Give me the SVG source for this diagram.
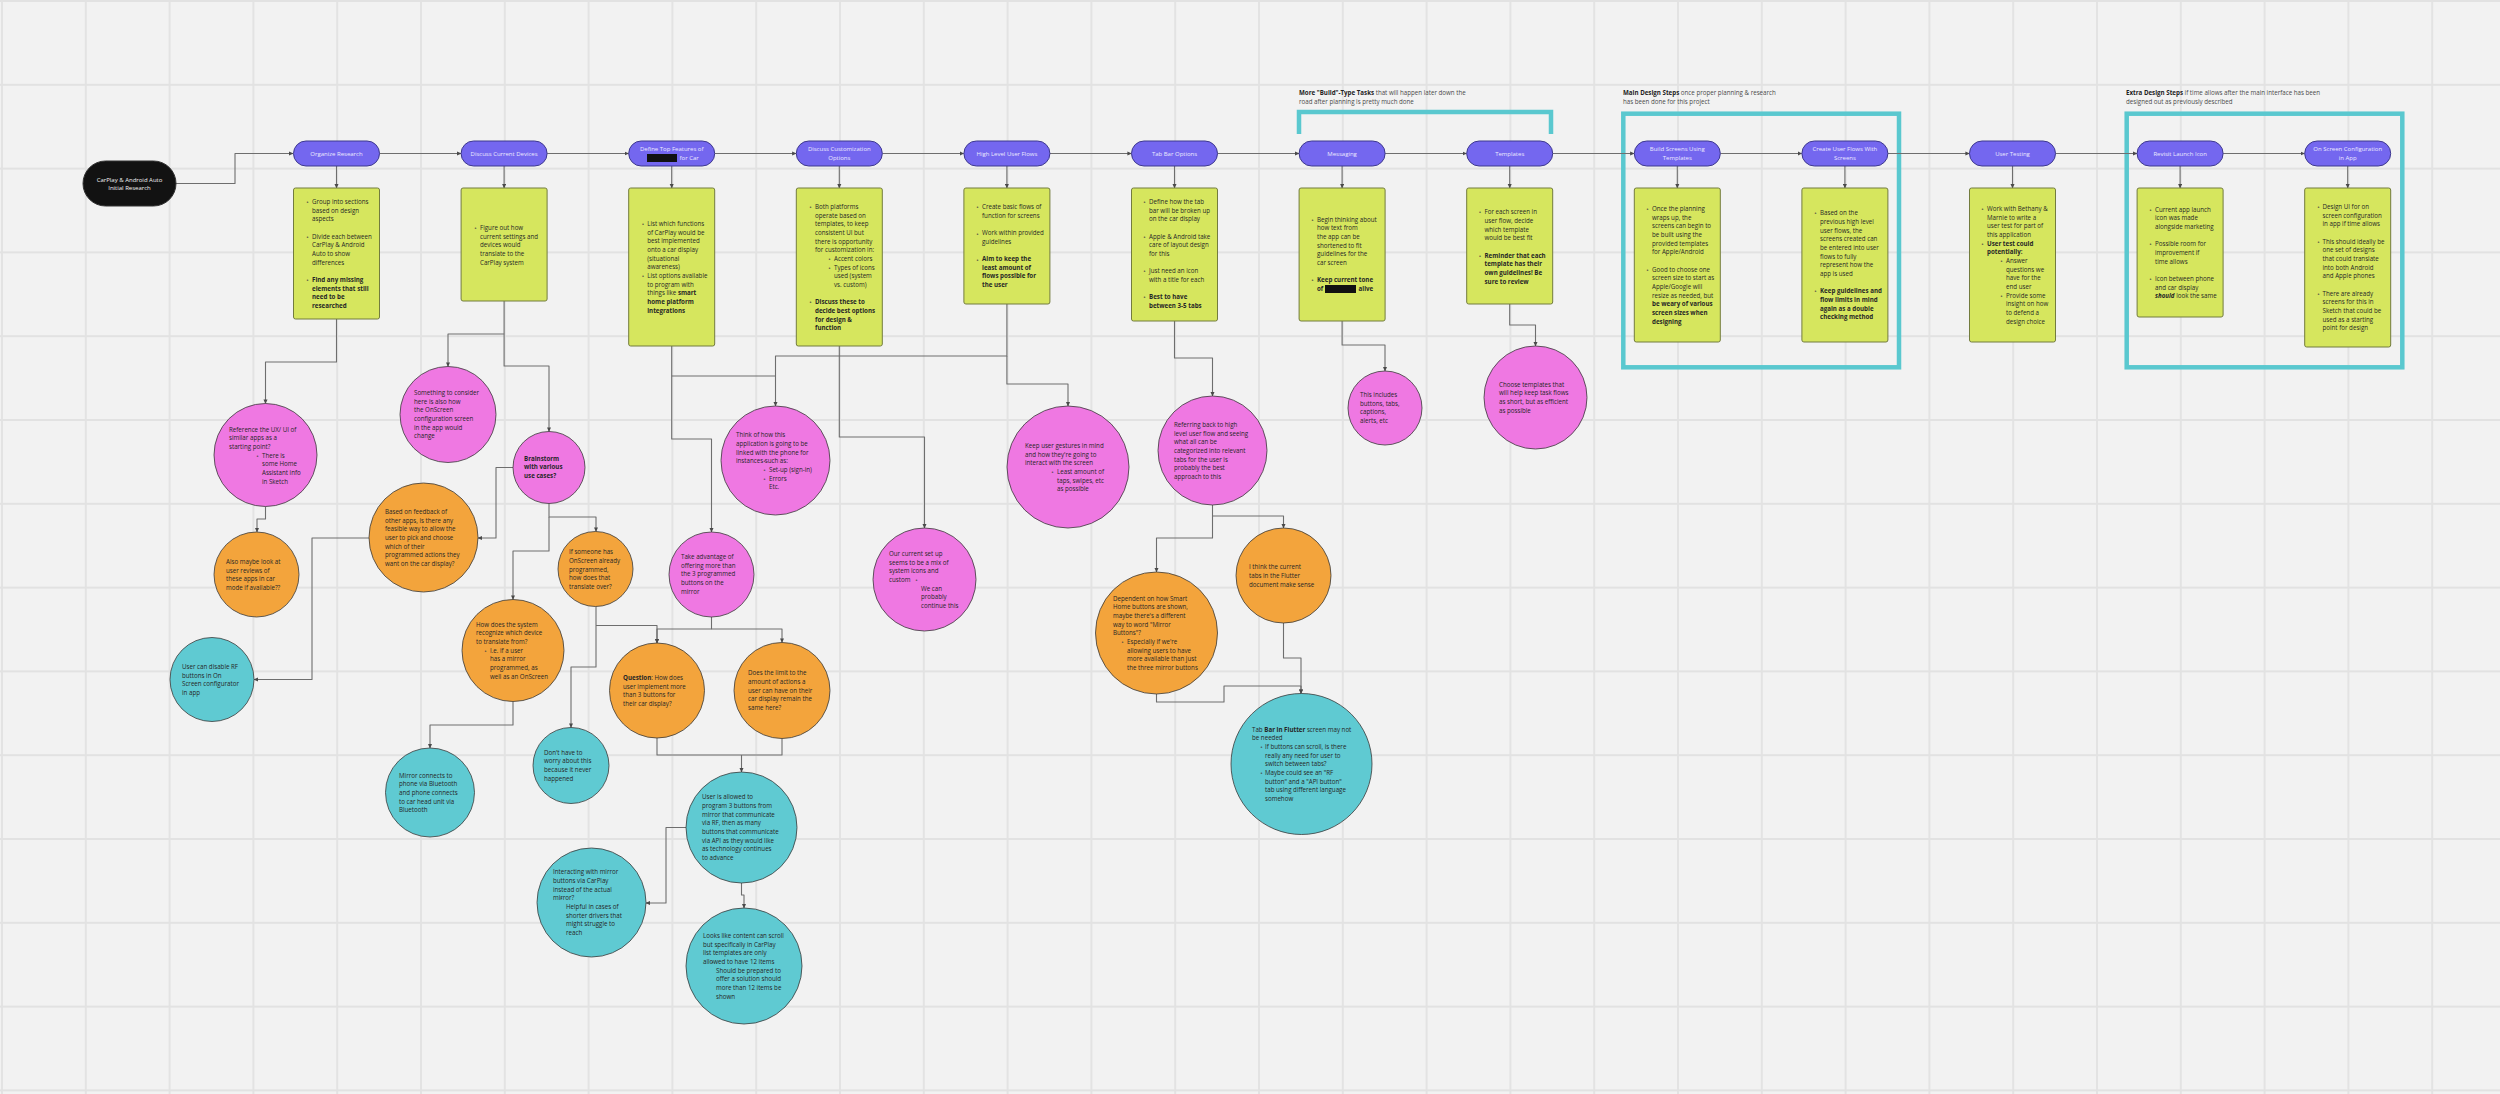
<svg xmlns="http://www.w3.org/2000/svg" width="2500" height="1094" viewBox="0 0 2500 1094">
<defs>
<pattern id="grid" width="83.8" height="83.8" patternUnits="userSpaceOnUse" x="1" y="0"><path d="M1 0V83.8M0 1H83.8" stroke="#e2e2e2" stroke-width="1.8" fill="none"/></pattern>
<marker id="ar" viewBox="0 0 10 10" refX="9" refY="5" markerWidth="4.5" markerHeight="4.5" markerUnits="userSpaceOnUse" orient="auto"><path d="M0,0.5 L10,5 L0,9.5z" fill="#4a4a4a"/></marker>
<style>
text{font-family:'Open Sans','Liberation Sans',Arial,sans-serif}
.n{font-size:6.2px;fill:#262626}
.b{font-weight:700}
.bi{font-weight:700;font-style:italic}
.bu{font-size:5px;fill:#444;font-family:'DejaVu Sans',sans-serif}
.p{font-size:6px;fill:#eceaff;text-anchor:middle}
.st{font-size:6px;fill:#f2f2f2;text-anchor:middle}
.h{font-size:6.2px;fill:#4a4a4a}
.note{fill:#d6e65e;stroke:#737c3e;stroke-width:1}
.pill{fill:#7467ef;stroke:#3d388e;stroke-width:1}
.pk{fill:#ef78e2;stroke:#3a3a3a;stroke-width:.8}
.or{fill:#f3a43c;stroke:#3a3a3a;stroke-width:.8}
.cy{fill:#5fcad2;stroke:#3a3a3a;stroke-width:.8}
.frame{fill:none;stroke:#5ac8cf;stroke-width:4.5}
.c path{fill:none;stroke:#6e6e6e;stroke-width:1.1;stroke-linejoin:round}
.c path.a{marker-end:url(#ar)}
.red{fill:#111}
</style>
</defs>
<rect width="2500" height="1094" fill="#f2f2f2"/>
<rect width="2500" height="1094" fill="url(#grid)"/>

<!-- frames and headers -->
<g id="frames">
<path class="frame" d="M1299,134V112H1551V134"/>
<rect class="frame" x="1623.3" y="113.7" width="275.7" height="253.6"/>
<rect class="frame" x="2126.7" y="113.7" width="275.6" height="253.6"/>
<text class="h" x="1299" y="95"><tspan class="b" fill="#222">More "Build"-Type Tasks</tspan> that will happen later down the</text>
<text class="h" x="1299" y="104">road after planning is pretty much done</text>
<text class="h" x="1623" y="95"><tspan class="b" fill="#222">Main Design Steps</tspan> once proper planning &amp; research</text>
<text class="h" x="1623" y="104">has been done for this project</text>
<text class="h" x="2126" y="95"><tspan class="b" fill="#222">Extra Design Steps</tspan> if time allows after the main interface has been</text>
<text class="h" x="2126" y="104">designed out as previously described</text>
</g>

<!-- connectors -->
<g id="connectors" class="c">
<path class="a" d="M176,183.5H235V153.5H293"/>
<path class="a" d="M379.5,153.5H461"/>
<path class="a" d="M547.1,153.5H628.6"/>
<path class="a" d="M714.7,153.5H796.2"/>
<path class="a" d="M882.3,153.5H963.8"/>
<path class="a" d="M1049.9,153.5H1131.4"/>
<path class="a" d="M1217.5,153.5H1299"/>
<path class="a" d="M1385.1,153.5H1466.6"/>
<path class="a" d="M1552.7,153.5H1634.2"/>
<path class="a" d="M1720.3,153.5H1801.8"/>
<path class="a" d="M1887.9,153.5H1969.4"/>
<path class="a" d="M2055.5,153.5H2137"/>
<path class="a" d="M2223.1,153.5H2304.6"/>
<path class="a" d="M336.5,166V188"/>
<path class="a" d="M504.1,166V188"/>
<path class="a" d="M671.7,166V188"/>
<path class="a" d="M839.3,166V188"/>
<path class="a" d="M1006.9,166V188"/>
<path class="a" d="M1174.5,166V188"/>
<path class="a" d="M1342.1,166V188"/>
<path class="a" d="M1509.7,166V188"/>
<path class="a" d="M1677.3,166V188"/>
<path class="a" d="M1844.9,166V188"/>
<path class="a" d="M2012.5,166V188"/>
<path class="a" d="M2180.1,166V188"/>
<path class="a" d="M2347.7,166V188"/>
<path class="a" d="M336.5,319V362H265.5V403.5"/>
<path class="a" d="M265.5,506.5V519H257V532"/>
<path class="a" d="M504.1,334H448V366.5"/>
<path class="a" d="M504.1,301V366H549V431.5"/>
<path class="a" d="M513,467.5H496V538H478"/>
<path class="a" d="M549,503.5V517H596V531.5"/>
<path class="a" d="M549,517V551H513V599.5"/>
<path class="a" d="M369,538H312V679.5H254"/>
<path class="a" d="M596,606.5V667H571V727.5"/>
<path class="a" d="M596,625.5H657V643"/>
<path class="a" d="M513,701.5V725H430V748"/>
<path class="a" d="M671.7,346V439H711.5V532"/>
<path d="M671.7,376H775.5"/>
<path class="a" d="M1006.9,304V356H775.5V406"/>
<path class="a" d="M1006.9,356V384H1068V406"/>
<path class="a" d="M839.3,346V437H924.5V528"/>
<path class="a" d="M711.5,617V629H657V643"/>
<path class="a" d="M711.5,629H782V642.5"/>
<path d="M657,738V755H782V738.5"/>
<path class="a" d="M741.5,755V772"/>
<path class="a" d="M686,827.5H666V903H646"/>
<path class="a" d="M741.5,883V895H744V908"/>
<path class="a" d="M1174.5,321V358H1212.5V396"/>
<path class="a" d="M1212.5,505V516H1283.5V528"/>
<path class="a" d="M1212.5,516V538H1156.5V572"/>
<path class="a" d="M1156.5,694V702H1224V686H1301V693.5"/>
<path class="a" d="M1283.5,623V658H1301V693.5"/>
<path class="a" d="M1342.1,321V345H1385V371"/>
<path class="a" d="M1509.7,304V325H1535.5V346"/>
</g>

<!-- start node -->
<g id="start">
<rect x="83" y="161" width="93" height="45" rx="22.5" fill="#121212" stroke="#333" stroke-width="1"/>
<text class="st" x="129.5" y="181.8">CarPlay &amp; Android Auto</text>
<text class="st" x="129.5" y="190.3">Initial Research</text>
</g>

<!-- pills -->
<g id="pill-organize"><rect class="pill" x="293.5" y="141" width="86" height="25" rx="12.5"/><text class="p" x="336.5" y="155.6">Organize Research</text></g>
<g id="pill-devices"><rect class="pill" x="461.1" y="141" width="86" height="25" rx="12.5"/><text class="p" x="504.1" y="155.6">Discuss Current Devices</text></g>
<g id="pill-features"><rect class="pill" x="628.7" y="141" width="86" height="25" rx="12.5"/><text class="p" x="671.7" y="151.4">Define Top Features of</text><rect class="red" x="647" y="154" width="30" height="8"/><text class="p" x="679.5" y="160.1" style="text-anchor:start">for Car</text></g>
<g id="pill-custom"><rect class="pill" x="796.3" y="141" width="86" height="25" rx="12.5"/><text class="p" x="839.3" y="151.4">Discuss Customization</text><text class="p" x="839.3" y="160.1">Options</text></g>
<g id="pill-flows"><rect class="pill" x="963.9" y="141" width="86" height="25" rx="12.5"/><text class="p" x="1006.9" y="155.6">High Level User Flows</text></g>
<g id="pill-tabbar"><rect class="pill" x="1131.5" y="141" width="86" height="25" rx="12.5"/><text class="p" x="1174.5" y="155.6">Tab Bar Options</text></g>
<g id="pill-messaging"><rect class="pill" x="1299.1" y="141" width="86" height="25" rx="12.5"/><text class="p" x="1342.1" y="155.6">Messaging</text></g>
<g id="pill-templates"><rect class="pill" x="1466.7" y="141" width="86" height="25" rx="12.5"/><text class="p" x="1509.7" y="155.6">Templates</text></g>
<g id="pill-build"><rect class="pill" x="1634.3" y="141" width="86" height="25" rx="12.5"/><text class="p" x="1677.3" y="151.4">Build Screens Using</text><text class="p" x="1677.3" y="160.1">Templates</text></g>
<g id="pill-create"><rect class="pill" x="1801.9" y="141" width="86" height="25" rx="12.5"/><text class="p" x="1844.9" y="151.4">Create User Flows With</text><text class="p" x="1844.9" y="160.1">Screens</text></g>
<g id="pill-testing"><rect class="pill" x="1969.5" y="141" width="86" height="25" rx="12.5"/><text class="p" x="2012.5" y="155.6">User Testing</text></g>
<g id="pill-icon"><rect class="pill" x="2137.1" y="141" width="86" height="25" rx="12.5"/><text class="p" x="2180.1" y="155.6">Revisit Launch Icon</text></g>
<g id="pill-onscreen"><rect class="pill" x="2304.7" y="141" width="86" height="25" rx="12.5"/><text class="p" x="2347.7" y="151.4">On Screen Configuration</text><text class="p" x="2347.7" y="160.1">in App</text></g>

<!-- notes -->
<g id="note-organize"><rect class="note" x="293.5" y="188" width="86" height="131" rx="2"/>
<text class="bu" x="306" y="204">•</text><text class="bu" x="306" y="238.7">•</text><text class="bu" x="306" y="282">•</text>
<text class="n" x="312" y="204"><tspan x="312">Group into sections</tspan><tspan x="312" dy="8.67">based on design</tspan><tspan x="312" dy="8.67">aspects</tspan><tspan x="312" dy="17.33">Divide each between</tspan><tspan x="312" dy="8.67">CarPlay &amp; Android</tspan><tspan x="312" dy="8.67">Auto to show</tspan><tspan x="312" dy="8.67">differences</tspan><tspan class="b" x="312" dy="17.33">Find any missing</tspan><tspan class="b" x="312" dy="8.67">elements that still</tspan><tspan class="b" x="312" dy="8.67">need to be</tspan><tspan class="b" x="312" dy="8.67">researched</tspan></text></g>

<g id="note-devices"><rect class="note" x="461.1" y="188" width="86" height="113" rx="2"/>
<text class="bu" x="474" y="230">•</text>
<text class="n" x="480" y="230"><tspan x="480">Figure out how</tspan><tspan x="480" dy="8.67">current settings and</tspan><tspan x="480" dy="8.67">devices would</tspan><tspan x="480" dy="8.67">translate to the</tspan><tspan x="480" dy="8.67">CarPlay system</tspan></text></g>

<g id="note-features"><rect class="note" x="628.7" y="188" width="86" height="158" rx="2"/>
<text class="bu" x="641.5" y="226">•</text><text class="bu" x="641.5" y="278">•</text>
<text class="n" x="647.2" y="226"><tspan x="647.2">List which functions</tspan><tspan x="647.2" dy="8.67">of CarPlay would be</tspan><tspan x="647.2" dy="8.67">best implemented</tspan><tspan x="647.2" dy="8.67">onto a car display</tspan><tspan x="647.2" dy="8.67">(situational</tspan><tspan x="647.2" dy="8.67">awareness)</tspan><tspan x="647.2" dy="8.67">List options available</tspan><tspan x="647.2" dy="8.67">to program with</tspan><tspan x="647.2" dy="8.67">things like <tspan class="b">smart</tspan></tspan><tspan class="b" x="647.2" dy="8.67">home platform</tspan><tspan class="b" x="647.2" dy="8.67">integrations</tspan></text></g>

<g id="note-custom"><rect class="note" x="796.3" y="188" width="86" height="158" rx="2"/>
<text class="bu" x="809" y="209">•</text><text class="bu" x="828" y="261">•</text><text class="bu" x="828" y="269.7">•</text><text class="bu" x="809" y="304.3">•</text>
<text class="n" x="815" y="209"><tspan x="815">Both platforms</tspan><tspan x="815" dy="8.67">operate based on</tspan><tspan x="815" dy="8.67">templates, to keep</tspan><tspan x="815" dy="8.67">consistent UI but</tspan><tspan x="815" dy="8.67">there is opportunity</tspan><tspan x="815" dy="8.67">for customization in:</tspan><tspan x="834" dy="8.67">Accent colors</tspan><tspan x="834" dy="8.67">Types of icons</tspan><tspan x="834" dy="8.67">used (system</tspan><tspan x="834" dy="8.67">vs. custom)</tspan><tspan class="b" x="815" dy="17.33">Discuss these to</tspan><tspan class="b" x="815" dy="8.67">decide best options</tspan><tspan class="b" x="815" dy="8.67">for design &amp;</tspan><tspan class="b" x="815" dy="8.67">function</tspan></text></g>

<g id="note-flows"><rect class="note" x="963.9" y="188" width="86" height="116" rx="2"/>
<text class="bu" x="976" y="209">•</text><text class="bu" x="976" y="235.7">•</text><text class="bu" x="976" y="261.7">•</text>
<text class="n" x="982" y="209"><tspan x="982">Create basic flows of</tspan><tspan x="982" dy="8.67">function for screens</tspan><tspan x="982" dy="17.33">Work within provided</tspan><tspan x="982" dy="8.67">guidelines</tspan><tspan class="b" x="982" dy="17.33">Aim to keep the</tspan><tspan class="b" x="982" dy="8.67">least amount of</tspan><tspan class="b" x="982" dy="8.67">flows possible for</tspan><tspan class="b" x="982" dy="8.67">the user</tspan></text></g>

<g id="note-tabbar"><rect class="note" x="1131.5" y="188" width="86" height="133" rx="2"/>
<text class="bu" x="1143" y="204">•</text><text class="bu" x="1143" y="238.7">•</text><text class="bu" x="1143" y="273.3">•</text><text class="bu" x="1143" y="299.3">•</text>
<text class="n" x="1149" y="204"><tspan x="1149">Define how the tab</tspan><tspan x="1149" dy="8.67">bar will be broken up</tspan><tspan x="1149" dy="8.67">on the car display</tspan><tspan x="1149" dy="17.33">Apple &amp; Android take</tspan><tspan x="1149" dy="8.67">care of layout design</tspan><tspan x="1149" dy="8.67">for this</tspan><tspan x="1149" dy="17.33">Just need an icon</tspan><tspan x="1149" dy="8.67">with a title for each</tspan><tspan class="b" x="1149" dy="17.33">Best to have</tspan><tspan class="b" x="1149" dy="8.67">between 3-5 tabs</tspan></text></g>

<g id="note-messaging"><rect class="note" x="1299.1" y="188" width="86" height="133" rx="2"/>
<text class="bu" x="1311" y="221.7">•</text><text class="bu" x="1311" y="282.4">•</text>
<text class="n" x="1317" y="221.7"><tspan x="1317">Begin thinking about</tspan><tspan x="1317" dy="8.67">how text from</tspan><tspan x="1317" dy="8.67">the app can be</tspan><tspan x="1317" dy="8.67">shortened to fit</tspan><tspan x="1317" dy="8.67">guidelines for the</tspan><tspan x="1317" dy="8.67">car screen</tspan><tspan class="b" x="1317" dy="17.33">Keep current tone</tspan></text>
<text class="n b" x="1317" y="291.1">of</text><rect class="red" x="1325" y="285" width="31" height="8"/><text class="n b" x="1358.5" y="291.1">alive</text></g>

<g id="note-templates"><rect class="note" x="1466.7" y="188" width="86" height="116" rx="2"/>
<text class="bu" x="1478.5" y="214.3">•</text><text class="bu" x="1478.5" y="257.6">•</text>
<text class="n" x="1484.5" y="214.3"><tspan x="1484.5">For each screen in</tspan><tspan x="1484.5" dy="8.67">user flow, decide</tspan><tspan x="1484.5" dy="8.67">which template</tspan><tspan x="1484.5" dy="8.67">would be best fit</tspan><tspan class="b" x="1484.5" dy="17.33">Reminder that each</tspan><tspan class="b" x="1484.5" dy="8.67">template has their</tspan><tspan class="b" x="1484.5" dy="8.67">own guidelines! Be</tspan><tspan class="b" x="1484.5" dy="8.67">sure to review</tspan></text></g>

<g id="note-build"><rect class="note" x="1634.3" y="188" width="86" height="154" rx="2"/>
<text class="bu" x="1646" y="211">•</text><text class="bu" x="1646" y="271.7">•</text>
<text class="n" x="1652" y="211"><tspan x="1652">Once the planning</tspan><tspan x="1652" dy="8.67">wraps up, the</tspan><tspan x="1652" dy="8.67">screens can begin to</tspan><tspan x="1652" dy="8.67">be built using the</tspan><tspan x="1652" dy="8.67">provided templates</tspan><tspan x="1652" dy="8.67">for Apple/Android</tspan><tspan x="1652" dy="17.33">Good to choose one</tspan><tspan x="1652" dy="8.67">screen size to start as</tspan><tspan x="1652" dy="8.67">Apple/Google will</tspan><tspan x="1652" dy="8.67">resize as needed, but</tspan><tspan class="b" x="1652" dy="8.67">be weary of various</tspan><tspan class="b" x="1652" dy="8.67">screen sizes when</tspan><tspan class="b" x="1652" dy="8.67">designing</tspan></text></g>

<g id="note-create"><rect class="note" x="1801.9" y="188" width="86" height="154" rx="2"/>
<text class="bu" x="1814" y="215.3">•</text><text class="bu" x="1814" y="293.3">•</text>
<text class="n" x="1820" y="215.3"><tspan x="1820">Based on the</tspan><tspan x="1820" dy="8.67">previous high level</tspan><tspan x="1820" dy="8.67">user flows, the</tspan><tspan x="1820" dy="8.67">screens created can</tspan><tspan x="1820" dy="8.67">be entered into user</tspan><tspan x="1820" dy="8.67">flows to fully</tspan><tspan x="1820" dy="8.67">represent how the</tspan><tspan x="1820" dy="8.67">app is used</tspan><tspan class="b" x="1820" dy="17.33">Keep guidelines and</tspan><tspan class="b" x="1820" dy="8.67">flow limits in mind</tspan><tspan class="b" x="1820" dy="8.67">again as a double</tspan><tspan class="b" x="1820" dy="8.67">checking method</tspan></text></g>

<g id="note-testing"><rect class="note" x="1969.5" y="188" width="86" height="154" rx="2"/>
<text class="bu" x="1981" y="211">•</text><text class="bu" x="1981" y="245.7">•</text><text class="bu" x="2000" y="263">•</text><text class="bu" x="2000" y="297.7">•</text>
<text class="n" x="1987" y="211"><tspan x="1987">Work with Bethany &amp;</tspan><tspan x="1987" dy="8.67">Marnie to write a</tspan><tspan x="1987" dy="8.67">user test for part of</tspan><tspan x="1987" dy="8.67">this application</tspan><tspan class="b" x="1987" dy="8.67">User test could</tspan><tspan class="b" x="1987" dy="8.67">potentially:</tspan><tspan x="2006" dy="8.67">Answer</tspan><tspan x="2006" dy="8.67">questions we</tspan><tspan x="2006" dy="8.67">have for the</tspan><tspan x="2006" dy="8.67">end user</tspan><tspan x="2006" dy="8.67">Provide some</tspan><tspan x="2006" dy="8.67">insight on how</tspan><tspan x="2006" dy="8.67">to defend a</tspan><tspan x="2006" dy="8.67">design choice</tspan></text></g>

<g id="note-icon"><rect class="note" x="2137.1" y="188" width="86" height="129" rx="2"/>
<text class="bu" x="2149" y="211.7">•</text><text class="bu" x="2149" y="246.3">•</text><text class="bu" x="2149" y="281">•</text>
<text class="n" x="2155" y="211.7"><tspan x="2155">Current app launch</tspan><tspan x="2155" dy="8.67">icon was made</tspan><tspan x="2155" dy="8.67">alongside marketing</tspan><tspan x="2155" dy="17.33">Possible room for</tspan><tspan x="2155" dy="8.67">improvement if</tspan><tspan x="2155" dy="8.67">time allows</tspan><tspan x="2155" dy="17.33">Icon between phone</tspan><tspan x="2155" dy="8.67">and car display</tspan><tspan x="2155" dy="8.67"><tspan class="bi">should</tspan> look the same</tspan></text></g>

<g id="note-onscreen"><rect class="note" x="2304.7" y="188" width="86" height="159" rx="2"/>
<text class="bu" x="2317" y="209">•</text><text class="bu" x="2317" y="243.7">•</text><text class="bu" x="2317" y="295.7">•</text>
<text class="n" x="2322.5" y="209"><tspan x="2322.5">Design UI for on</tspan><tspan x="2322.5" dy="8.67">screen configuration</tspan><tspan x="2322.5" dy="8.67">in app if time allows</tspan><tspan x="2322.5" dy="17.33">This should ideally be</tspan><tspan x="2322.5" dy="8.67">one set of designs</tspan><tspan x="2322.5" dy="8.67">that could translate</tspan><tspan x="2322.5" dy="8.67">into both Android</tspan><tspan x="2322.5" dy="8.67">and Apple phones</tspan><tspan x="2322.5" dy="17.33">There are already</tspan><tspan x="2322.5" dy="8.67">screens for this in</tspan><tspan x="2322.5" dy="8.67">Sketch that could be</tspan><tspan x="2322.5" dy="8.67">used as a starting</tspan><tspan x="2322.5" dy="8.67">point for design</tspan></text></g>

<!-- circles -->
<g id="c-reference"><circle class="pk" cx="265.5" cy="455" r="51.5"/>
<text class="bu" x="256" y="457.8">•</text>
<text class="n" x="229" y="431.8"><tspan x="229">Reference the UX/ UI of</tspan><tspan x="229" dy="8.67">similar apps as a</tspan><tspan x="229" dy="8.67">starting point?</tspan><tspan x="262" dy="8.67">There is</tspan><tspan x="262" dy="8.67">some Home</tspan><tspan x="262" dy="8.67">Assistant info</tspan><tspan x="262" dy="8.67">in Sketch</tspan></text></g>

<g id="c-reviews"><circle class="or" cx="256.5" cy="574.5" r="42.5"/>
<text class="n" x="226" y="564"><tspan x="226">Also maybe look at</tspan><tspan x="226" dy="8.67">user reviews of</tspan><tspan x="226" dy="8.67">these apps in car</tspan><tspan x="226" dy="8.67">mode if available??</tspan></text></g>

<g id="c-disable"><circle class="cy" cx="212" cy="679.5" r="42"/>
<text class="n" x="182" y="669"><tspan x="182">User can disable RF</tspan><tspan x="182" dy="8.67">buttons in On</tspan><tspan x="182" dy="8.67">Screen configurator</tspan><tspan x="182" dy="8.67">in app</tspan></text></g>

<g id="c-consider"><circle class="pk" cx="448" cy="414.5" r="48"/>
<text class="n" x="414" y="395"><tspan x="414">Something to consider</tspan><tspan x="414" dy="8.67">here is also how</tspan><tspan x="414" dy="8.67">the OnScreen</tspan><tspan x="414" dy="8.67">configuration screen</tspan><tspan x="414" dy="8.67">in the app would</tspan><tspan x="414" dy="8.67">change</tspan></text></g>

<g id="c-brainstorm"><circle class="pk" cx="549" cy="467.5" r="36"/>
<text class="n b" x="524" y="460.8"><tspan x="524">Brainstorm</tspan><tspan x="524" dy="8.67">with various</tspan><tspan x="524" dy="8.67">use cases?</tspan></text></g>

<g id="c-feedback"><circle class="or" cx="423.5" cy="537.5" r="54.5"/>
<text class="n" x="385" y="514"><tspan x="385">Based on feedback of</tspan><tspan x="385" dy="8.67">other apps, is there any</tspan><tspan x="385" dy="8.67">feasible way to allow the</tspan><tspan x="385" dy="8.67">user to pick and choose</tspan><tspan x="385" dy="8.67">which of their</tspan><tspan x="385" dy="8.67">programmed actions they</tspan><tspan x="385" dy="8.67">want on the car display?</tspan></text></g>

<g id="c-someone"><circle class="or" cx="595.5" cy="569" r="37.5"/>
<text class="n" x="569" y="554.4"><tspan x="569">If someone has</tspan><tspan x="569" dy="8.67">OnScreen already</tspan><tspan x="569" dy="8.67">programmed,</tspan><tspan x="569" dy="8.67">how does that</tspan><tspan x="569" dy="8.67">translate over?</tspan></text></g>

<g id="c-recognize"><circle class="or" cx="513" cy="650.5" r="51"/>
<text class="bu" x="484" y="652.8">•</text>
<text class="n" x="476" y="626.8"><tspan x="476">How does the system</tspan><tspan x="476" dy="8.67">recognize which device</tspan><tspan x="476" dy="8.67">to translate from?</tspan><tspan x="490" dy="8.67">I.e. if a user</tspan><tspan x="490" dy="8.67">has a mirror</tspan><tspan x="490" dy="8.67">programmed, as</tspan><tspan x="490" dy="8.67">well as an OnScreen</tspan></text></g>

<g id="c-mirror"><circle class="cy" cx="430" cy="792.5" r="44.5"/>
<text class="n" x="399" y="777.8"><tspan x="399">Mirror connects to</tspan><tspan x="399" dy="8.67">phone via Bluetooth</tspan><tspan x="399" dy="8.67">and phone connects</tspan><tspan x="399" dy="8.67">to car head unit via</tspan><tspan x="399" dy="8.67">Bluetooth</tspan></text></g>

<g id="c-worry"><circle class="cy" cx="571" cy="765.5" r="38"/>
<text class="n" x="544" y="754.8"><tspan x="544">Don't have to</tspan><tspan x="544" dy="8.67">worry about this</tspan><tspan x="544" dy="8.67">because it never</tspan><tspan x="544" dy="8.67">happened</tspan></text></g>

<g id="c-interacting"><circle class="cy" cx="591.5" cy="902.5" r="54.5"/>
<text class="bu" x="560" y="900.4">•</text>
<text class="n" x="553" y="874.4"><tspan x="553">Interacting with mirror</tspan><tspan x="553" dy="8.67">buttons via CarPlay</tspan><tspan x="553" dy="8.67">instead of the actual</tspan><tspan x="553" dy="8.67">mirror?</tspan><tspan x="566" dy="8.67">Helpful in cases of</tspan><tspan x="566" dy="8.67">shorter drivers that</tspan><tspan x="566" dy="8.67">might struggle to</tspan><tspan x="566" dy="8.67">reach</tspan></text></g>

<g id="c-allowed"><circle class="cy" cx="741.5" cy="827.5" r="55.5"/>
<text class="n" x="702" y="799.4"><tspan x="702">User is allowed to</tspan><tspan x="702" dy="8.67">program 3 buttons from</tspan><tspan x="702" dy="8.67">mirror that communicate</tspan><tspan x="702" dy="8.67">via RF, then as many</tspan><tspan x="702" dy="8.67">buttons that communicate</tspan><tspan x="702" dy="8.67">via API as they would like</tspan><tspan x="702" dy="8.67">as technology continues</tspan><tspan x="702" dy="8.67">to advance</tspan></text></g>

<g id="c-scroll"><circle class="cy" cx="744" cy="966" r="58"/>
<text class="bu" x="711" y="964.1">•</text>
<text class="n" x="703" y="938.1"><tspan x="703">Looks like content can scroll</tspan><tspan x="703" dy="8.67">but specifically in CarPlay</tspan><tspan x="703" dy="8.67">list templates are only</tspan><tspan x="703" dy="8.67">allowed to have 12 items</tspan><tspan x="716" dy="8.67">Should be prepared to</tspan><tspan x="716" dy="8.67">offer a solution should</tspan><tspan x="716" dy="8.67">more than 12 items be</tspan><tspan x="716" dy="8.67">shown</tspan></text></g>

<g id="c-advantage"><circle class="pk" cx="711.5" cy="574.5" r="42.5"/>
<text class="n" x="681" y="559.1"><tspan x="681">Take advantage of</tspan><tspan x="681" dy="8.67">offering more than</tspan><tspan x="681" dy="8.67">the 3 programmed</tspan><tspan x="681" dy="8.67">buttons on the</tspan><tspan x="681" dy="8.67">mirror</tspan></text></g>

<g id="c-linked"><circle class="pk" cx="775.5" cy="460.5" r="54.5"/>
<text class="bu" x="763" y="463.4">•</text><text class="bu" x="763" y="472.1">•</text><text class="bu" x="763" y="480.7">•</text>
<text class="n" x="736" y="437.4"><tspan x="736">Think of how this</tspan><tspan x="736" dy="8.67">application is going to be</tspan><tspan x="736" dy="8.67">linked with the phone for</tspan><tspan x="736" dy="8.67">instances such as:</tspan><tspan x="769" dy="8.67">Set-up (sign-in)</tspan><tspan x="769" dy="8.67">Errors</tspan><tspan x="769" dy="8.67">Etc.</tspan></text></g>

<g id="c-icons"><circle class="pk" cx="924.5" cy="579.5" r="51.5"/>
<text class="bu" x="915" y="582.1">•</text>
<text class="n" x="889" y="556.1"><tspan x="889">Our current set up</tspan><tspan x="889" dy="8.67">seems to be a mix of</tspan><tspan x="889" dy="8.67">system icons and</tspan><tspan x="889" dy="8.67">custom</tspan><tspan x="921" dy="8.67">We can</tspan><tspan x="921" dy="8.67">probably</tspan><tspan x="921" dy="8.67">continue this</tspan></text></g>

<g id="c-question"><circle class="or" cx="657" cy="690.5" r="47.5"/>
<text class="n" x="623" y="680.1"><tspan x="623"><tspan class="b">Question</tspan>: How does</tspan><tspan x="623" dy="8.67">user implement more</tspan><tspan x="623" dy="8.67">than 3 buttons for</tspan><tspan x="623" dy="8.67">their car display?</tspan></text></g>

<g id="c-limit"><circle class="or" cx="782" cy="690.5" r="48"/>
<text class="n" x="748" y="675.4"><tspan x="748">Does the limit to the</tspan><tspan x="748" dy="8.67">amount of actions a</tspan><tspan x="748" dy="8.67">user can have on their</tspan><tspan x="748" dy="8.67">car display remain the</tspan><tspan x="748" dy="8.67">same here?</tspan></text></g>

<g id="c-gestures"><circle class="pk" cx="1068" cy="467" r="61"/>
<text class="bu" x="1051" y="474.1">•</text>
<text class="n" x="1025" y="448.1"><tspan x="1025">Keep user gestures in mind</tspan><tspan x="1025" dy="8.67">and how they're going to</tspan><tspan x="1025" dy="8.67">interact with the screen</tspan><tspan x="1057" dy="8.67">Least amount of</tspan><tspan x="1057" dy="8.67">taps, swipes, etc</tspan><tspan x="1057" dy="8.67">as possible</tspan></text></g>

<g id="c-referring"><circle class="pk" cx="1212.5" cy="450.5" r="54.5"/>
<text class="n" x="1174" y="427.1"><tspan x="1174">Referring back to high</tspan><tspan x="1174" dy="8.67">level user flow and seeing</tspan><tspan x="1174" dy="8.67">what all can be</tspan><tspan x="1174" dy="8.67">categorized into relevant</tspan><tspan x="1174" dy="8.67">tabs for the user is</tspan><tspan x="1174" dy="8.67">probably the best</tspan><tspan x="1174" dy="8.67">approach to this</tspan></text></g>

<g id="c-flutter-tabs"><circle class="or" cx="1283.5" cy="575.5" r="47.5"/>
<text class="n" x="1249" y="569.4"><tspan x="1249">I think the current</tspan><tspan x="1249" dy="8.67">tabs in the Flutter</tspan><tspan x="1249" dy="8.67">document make sense</tspan></text></g>

<g id="c-dependent"><circle class="or" cx="1156.5" cy="633" r="61"/>
<text class="bu" x="1121" y="644.1">•</text>
<text class="n" x="1113" y="600.8"><tspan x="1113">Dependent on how Smart</tspan><tspan x="1113" dy="8.67">Home buttons are shown,</tspan><tspan x="1113" dy="8.67">maybe there's a different</tspan><tspan x="1113" dy="8.67">way to word "Mirror</tspan><tspan x="1113" dy="8.67">Buttons"?</tspan><tspan x="1127" dy="8.67">Especially if we're</tspan><tspan x="1127" dy="8.67">allowing users to have</tspan><tspan x="1127" dy="8.67">more available than just</tspan><tspan x="1127" dy="8.67">the three mirror buttons</tspan></text></g>

<g id="c-tabbar"><circle class="cy" cx="1301.5" cy="764" r="70.5"/>
<text class="bu" x="1260" y="749">•</text><text class="bu" x="1260" y="775">•</text>
<text class="n" x="1252" y="731.7"><tspan x="1252">Tab <tspan class="b">Bar in Flutter</tspan> screen may not</tspan><tspan x="1252" dy="8.67">be needed</tspan><tspan x="1265" dy="8.67">If buttons can scroll, is there</tspan><tspan x="1265" dy="8.67">really any need for user to</tspan><tspan x="1265" dy="8.67">switch between tabs?</tspan><tspan x="1265" dy="8.67">Maybe could see an "RF</tspan><tspan x="1265" dy="8.67">button" and a "API button"</tspan><tspan x="1265" dy="8.67">tab using different language</tspan><tspan x="1265" dy="8.67">somehow</tspan></text></g>

<g id="c-includes"><circle class="pk" cx="1385" cy="408" r="37"/>
<text class="n" x="1360" y="397.1"><tspan x="1360">This includes</tspan><tspan x="1360" dy="8.67">buttons, tabs,</tspan><tspan x="1360" dy="8.67">captions,</tspan><tspan x="1360" dy="8.67">alerts, etc</tspan></text></g>

<g id="c-choose"><circle class="pk" cx="1535.5" cy="397.5" r="51.5"/>
<text class="n" x="1499" y="386.7"><tspan x="1499">Choose templates that</tspan><tspan x="1499" dy="8.67">will help keep task flows</tspan><tspan x="1499" dy="8.67">as short, but as efficient</tspan><tspan x="1499" dy="8.67">as possible</tspan></text></g>
</svg>
